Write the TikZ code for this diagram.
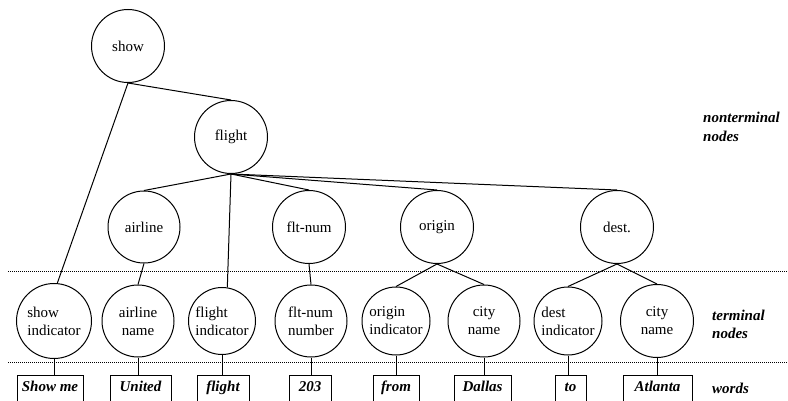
\documentclass[tikz,border=0pt]{standalone}
\usepackage{fontspec}
\setmainfont{Liberation Serif}
\begin{document}
\begin{tikzpicture}[x=1pt,y=-1pt,
  txt/.style={font=\fontsize{15}{18}\selectfont},
  nt/.style={txt,circle,draw,line width=1pt,minimum size=73pt,inner sep=0pt},
  term/.style={txt,circle,draw,line width=1pt,minimum size=72pt,inner sep=0pt,align=left},
  termc/.style={term,align=center},
  wordbox/.style={draw,line width=1pt,anchor=north,text height=11pt,text depth=12pt,inner ysep=5pt,inner xsep=0pt,font=\fontsize{15}{18}\selectfont\bfseries\itshape},
  edge/.style={line width=1pt},
  sepline/.style={line width=0.6pt,dash pattern=on 1pt off 1pt},
  side/.style={font=\fontsize{15}{18}\selectfont\bfseries\itshape,anchor=base west,inner sep=0pt}]
\clip (0,0) rectangle (788,401);
% nonterminal nodes
\node[nt] (show) at (128,46) {show};
\node[nt] (flight) at (231,137) {flight};
\node[nt,minimum size=72pt] (airline) at (144,227) {airline};
\node[nt] (fltnum) at (309,227) {flt-num};
\node[nt] (origin) at (437,227) {origin};
\node[nt] (dest) at (617,227) {dest.};
% terminal nodes
\node[term,minimum size=75pt] (si) at (54,321) {show\\indicator};
\node[termc] (an) at (138,321) {airline\\name};
\node[term,minimum size=67pt] (fi) at (222,321) {flight\\indicator};
\node[term] (fn) at (311,321) {flt-num\\number};
\node[term,minimum size=68pt] (oi) at (396,321) {origin\\indicator};
\node[termc] (cn1) at (484,321) {city\\name};
\node[term,minimum size=68pt] (di) at (568,321) {dest\\indicator};
\node[termc,minimum size=73pt] (cn2) at (657,321) {city\\name};
% words
\node[wordbox,minimum width=66pt] (w1) at (50,375) {Show me};
\node[wordbox,minimum width=61pt] (w2) at (140.5,375) {United};
\node[wordbox,minimum width=52pt] (w3) at (223,375) {flight};
\node[wordbox,minimum width=42pt] (w4) at (310,375) {203};
\node[wordbox,minimum width=46pt] (w5) at (396,375) {from};
\node[wordbox,minimum width=57pt] (w6) at (482.5,375) {Dallas};
\node[wordbox,minimum width=31pt] (w7) at (570.5,375) {to};
\node[wordbox,minimum width=69pt] (w8) at (657.5,375) {Atlanta};
% separators
\coordinate (s1a) at (8,271); \coordinate (s1b) at (788,271);
\coordinate (s2a) at (8,362); \coordinate (s2b) at (788,362);
\draw[sepline] (s1a) -- (s1b);
\draw[sepline] (s2a) -- (s2b);
% edges
\draw[edge] (show.south) -- (flight.north);
\draw[edge] (show.south) -- (si.85);
\draw[edge] (flight.south) -- (airline.north);
\draw[edge] (flight.south) -- (fi.81);
\draw[edge] (flight.south) -- (fltnum.north);
\draw[edge] (flight.south) -- (origin.north);
\draw[edge] (flight.south) -- (dest.north);
\draw[edge] (airline.south) -- (an.north);
\draw[edge] (fltnum.south) -- (fn.north);
\draw[edge] (origin.south) -- (oi.north);
\draw[edge] (origin.south) -- (cn1.north);
\draw[edge] (dest.south) -- (di.north);
\draw[edge] (dest.south) -- (cn2.north);
\draw[edge] (si.south) -- (si.south |- w1.north);
\draw[edge] (an.south) -- (an.south |- w2.north);
\draw[edge] (fi.south) -- (fi.south |- w3.north);
\draw[edge] (fn.south) -- (fn.south |- w4.north);
\draw[edge] (oi.south) -- (oi.south |- w5.north);
\draw[edge] (cn1.south) -- (cn1.south |- w6.north);
\draw[edge] (di.south) -- (di.south |- w7.north);
\draw[edge] (cn2.south) -- (cn2.south |- w8.north);
% side labels
\node[side] (l1) at (703,123) {nonterminal};
\node[side] (l2) at (703,142) {nodes};
\node[side] (l3) at (712,320) {terminal};
\node[side] (l4) at (712,338) {nodes};
\node[side] (l5) at (712,393) {words};
\end{tikzpicture}
\end{document}
